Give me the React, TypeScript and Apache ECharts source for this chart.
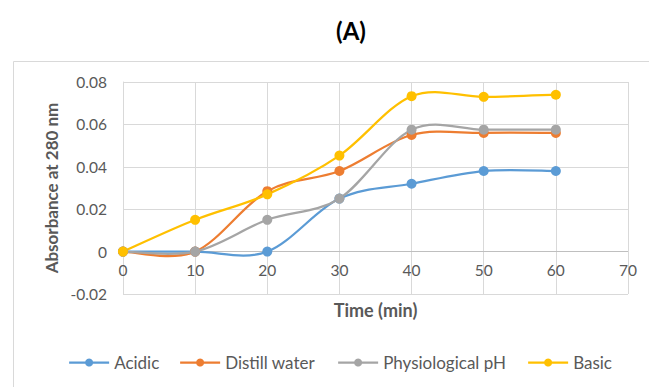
import React, { useEffect, useRef } from "react";
import * as echarts from "echarts";

const timeMin = [0, 10, 20, 30, 40, 50, 60];
const acidic = [0, 0, 0, 0.025, 0.032, 0.038, 0.038];
const distillWater = [0, 0, 0.0285, 0.038, 0.055, 0.056, 0.056];
const physiologicalPH = [0, 0, 0.015, 0.025, 0.0575, 0.0575, 0.0575];
const basic = [0, 0.015, 0.027, 0.0453, 0.0733, 0.073, 0.074];

const seriesNames = ["Acidic", "Distill water", "Physiological pH", "Basic"];
const seriesColors = ["#5B9BD5", "#ED7D31", "#A5A5A5", "#FFC000"];
const legendLefts = [68, 179, 337, 527];

const FONT = "Lato, 'Noto Sans', sans-serif";

export default function App() {
  const ref = useRef<HTMLDivElement>(null);
  useEffect(() => {
    if (!ref.current) return;
    const chart = echarts.init(ref.current, undefined, { renderer: "svg" });
    const values = [acidic, distillWater, physiologicalPH, basic];

    // Excel-like smoothed curve (Catmull-Rom -> cubic Bezier), drawn per segment
    const curveSeries = values.map((vals, s) => ({
      name: "_curve" + s,
      type: "custom",
      z: 2,
      silent: true,
      encode: { x: 0, y: 1 },
      data: timeMin.map((t, j) => [t, vals[j]]),
      renderItem: (params: any, api: any) => {
        const i = params.dataIndex;
        const n = timeMin.length;
        if (i >= n - 1) return null;
        const p = (k: number) => {
          const kk = Math.max(0, Math.min(n - 1, k));
          return api.coord([timeMin[kk], vals[kk]]);
        };
        const p0 = p(i - 1);
        const p1 = p(i);
        const p2 = p(i + 1);
        const p3 = p(i + 2);
        const k = 1 / 6;
        return {
          type: "bezierCurve",
          shape: {
            x1: p1[0],
            y1: p1[1],
            x2: p2[0],
            y2: p2[1],
            cpx1: p1[0] + (p2[0] - p0[0]) * k,
            cpy1: p1[1] + (p2[1] - p0[1]) * k,
            cpx2: p2[0] - (p3[0] - p1[0]) * k,
            cpy2: p2[1] - (p3[1] - p1[1]) * k,
          },
          style: { stroke: seriesColors[s], lineWidth: 2.25, fill: "none" },
        };
      },
    }));

    const markerSeries = seriesNames.map((name, i) => ({
      name,
      type: "line",
      smooth: false,
      symbol: "circle",
      symbolSize: 10,
      color: seriesColors[i],
      lineStyle: { width: 2.25, color: "rgba(0,0,0,0)" },
      itemStyle: { color: seriesColors[i] },
      data: timeMin.map((t, j) => [t, values[i][j]]),
      z: 3,
      markLine:
        i === 0
          ? {
              silent: true,
              symbol: "none",
              label: { show: false },
              lineStyle: { color: "#bfbfbf", width: 1, type: "solid" },
              data: [{ yAxis: 0 }],
              z: 1,
            }
          : undefined,
    }));

    chart.setOption({
      animation: false,
      backgroundColor: "#ffffff",
      textStyle: { fontFamily: FONT },
      title: {
        text: "(A)",
        left: 346,
        top: 13,
        textAlign: "center",
        textStyle: { fontFamily: FONT, fontSize: 24, fontWeight: "bold", color: "#000000" },
      },
      graphic: [
        {
          type: "rect",
          shape: { x: 13.5, y: 61.5, width: 700, height: 400 },
          style: { fill: "none", stroke: "#d9d9d9", lineWidth: 1 },
          silent: true,
        },
      ],
      grid: { left: 123, top: 82, right: 21, bottom: 93 },
      legend: seriesNames.map((name, i) => ({
        left: legendLefts[i],
        top: 354,
        padding: 0,
        itemWidth: 40,
        itemHeight: 10,
        itemGap: 18,
        lineStyle: { color: seriesColors[i], width: 2.25, opacity: 1 },
        textStyle: { fontFamily: FONT, fontSize: 17, color: "#595959" },
        data: [name],
      })),
      xAxis: {
        type: "value",
        min: 0,
        max: 70,
        interval: 10,
        name: "Time (min)",
        nameLocation: "middle",
        nameGap: 7,
        nameTextStyle: {
          fontFamily: FONT,
          fontSize: 18,
          fontWeight: "bold",
          color: "#595959",
          verticalAlign: "top",
        },
        axisLine: { show: false, onZero: false },
        axisTick: { show: false },
        axisLabel: {
          margin: -32,
          verticalAlign: "top",
          fontFamily: FONT,
          fontSize: 15.5,
          color: "#595959",
        },
        splitLine: { show: true, lineStyle: { color: "#d9d9d9", width: 1 } },
      },
      yAxis: {
        type: "value",
        min: -0.02,
        max: 0.08,
        interval: 0.02,
        name: "Absorbance at 280 nm",
        nameLocation: "middle",
        nameGap: 62,
        nameTextStyle: { fontFamily: FONT, fontSize: 17, fontWeight: "bold", color: "#595959" },
        axisLine: { show: true, onZero: false, lineStyle: { color: "#d9d9d9", width: 1 } },
        axisTick: { show: false },
        axisLabel: {
          margin: 16,
          fontFamily: FONT,
          fontSize: 15.5,
          color: "#595959",
          formatter: (v: number) => String(+v.toFixed(2)),
        },
        splitLine: { show: true, lineStyle: { color: "#d9d9d9", width: 1 } },
      },
      series: [...curveSeries, ...markerSeries],
    });
    return () => chart.dispose();
  }, []);
  return (
    <div
      ref={ref}
      style={{ position: "fixed", left: 0, top: 0, width: 649, height: 387 }}
    />
  );
}
